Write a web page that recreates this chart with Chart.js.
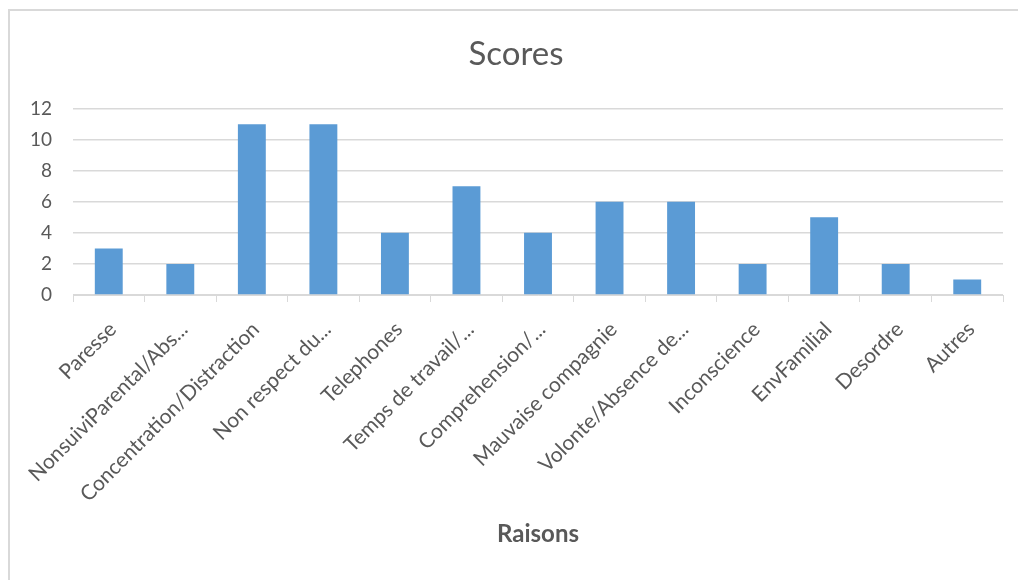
<!DOCTYPE html>
<html>
<head>
<meta charset="utf-8">
<script src="https://cdn.jsdelivr.net/npm/chart.js@4"></script>
<style>
html,body{margin:0;padding:0;background:#fff;overflow:hidden;width:1018px;height:580px;}
#frame{position:absolute;left:8px;top:9px;width:1200px;height:700px;border-left:2px solid #d9d9d9;border-top:2px solid #d9d9d9;}
#wrap{position:absolute;left:0;top:0;width:1018px;height:580px;}
</style>
</head>
<body>
<div id="frame"></div>
<div id="wrap"><canvas id="c"></canvas></div>
<script>
const categories = ["Paresse","NonsuiviParental/Abs...","Concentration/Distraction","Non respect du...","Telephones","Temps de travail/...","Comprehension/...","Mauvaise compagnie","Volonte/Absence de...","Inconscience","EnvFamilial","Desordre","Autres"];
const scores = [3,2,11,11,4,7,4,6,6,2,5,2,1];
const yTicks = [0,2,4,6,8,10,12];
const chartTitle = "Scores";
const xTitle = "Raisons";

const FONT = "Lato, 'Open Sans', sans-serif";
const GREY = "#595959";
const GRID = "#d9d9d9";

new Chart(document.getElementById('c'), {
  type: 'bar',
  data: {
    labels: categories,
    datasets: [{
      label: chartTitle,
      data: scores,
      backgroundColor: '#5b9bd5',
      borderWidth: 0,
      categoryPercentage: 1,
      barPercentage: 0.39
    }]
  },
  options: {
    responsive: true,
    maintainAspectRatio: false,
    animation: false,
    layout: { padding: { left: 29, right: 15, top: 0, bottom: 0 } },
    plugins: {
      legend: { display: false },
      tooltip: { enabled: false },
      title: {
        display: true,
        text: chartTitle,
        color: GREY,
        font: { family: FONT, size: 33, weight: 'normal', lineHeight: 1.2 },
        padding: { top: 35, bottom: 34 }
      }
    },
    scales: {
      x: {
        afterFit: s => { s.height = 285; },
        border: { display: true, color: GRID, width: 1 },
        grid: { display: true, drawOnChartArea: false, drawTicks: true, tickLength: 7, color: GRID, offset: true },
        ticks: {
          color: GREY,
          font: { family: FONT, size: 21 },
          autoSkip: false,
          minRotation: 45,
          maxRotation: 45,
          padding: 15,
          labelOffset: 4
        },
        title: {
          display: true,
          text: xTitle,
          color: GREY,
          font: { family: FONT, size: 24, weight: 'bold', lineHeight: 1.2 },
          padding: { top: 0, bottom: 31 }
        }
      },
      y: {
        min: 0,
        max: 12,
        afterFit: s => { s.width = 44; },
        afterBuildTicks: s => { s.ticks = yTicks.map(v => ({ value: v })); },
        border: { display: false },
        grid: { color: GRID, lineWidth: 1.5, drawTicks: false },
        ticks: {
          color: GREY,
          font: { family: FONT, size: 19 },
          padding: 21,
          stepSize: 2
        }
      }
    }
  }
});
</script>
</body>
</html>
